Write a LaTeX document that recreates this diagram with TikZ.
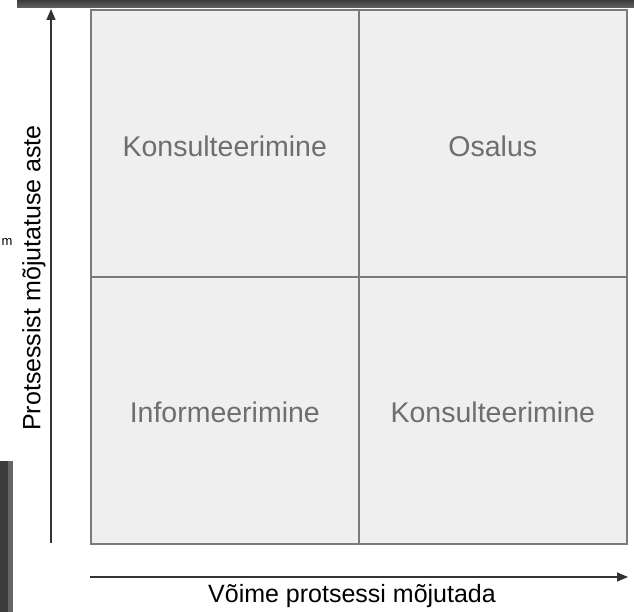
\documentclass[tikz,border=0pt]{standalone}
\usepackage{fontspec}
\setmainfont{Liberation Sans}
\usetikzlibrary{arrows.meta}
\definecolor{cellfill}{HTML}{EFEFEF}
\definecolor{cellline}{HTML}{7A7A7A}
\definecolor{celltext}{HTML}{6E6E6E}
\definecolor{darkbar}{HTML}{3C3C3C}
\tikzset{
  x=1pt,y=-1pt,
  cell/.style={draw=cellline,line width=1.6pt,fill=cellfill,minimum width=268pt,minimum height=267pt,inner sep=0pt},
  celltxt/.style={font=\fontsize{28.5}{32}\selectfont,text=celltext,inner sep=0pt},
  axis/.style={draw=black!80,line width=1.4pt,-{Triangle[length=11pt,width=9pt]}},
  axislabel/.style={font=\fontsize{25}{29}\selectfont,text=black,inner sep=0pt}
}
\begin{document}
\begin{tikzpicture}
\useasboundingbox (0,0) rectangle (634,612);
% decorative bars
\fill[top color=darkbar,bottom color=darkbar!80!white] (17,0) rectangle (634,8);
\fill[darkbar] (0,461) rectangle (8,612);
\fill[black!60] (8,461) rectangle (13,612);
\node[font=\fontsize{13}{15}\selectfont,inner sep=0pt] (m) at (7,242) {m};
% cells
\node[cell,anchor=north west] (c11) at (90,9) {};
\node[cell,anchor=north west] (c12) at (358,9) {};
\node[cell,anchor=north west] (c21) at (90,276) {};
\node[cell,anchor=north west] (c22) at (358,276) {};
\node[celltxt] (t11) at ([yshift=-3pt]c11.center) {Konsulteerimine};
\node[celltxt] (t12) at ([yshift=-3pt]c12.center) {Osalus};
\node[celltxt] (t21) at ([yshift=-2pt]c21.center) {Informeerimine};
\node[celltxt] (t22) at ([yshift=-2pt]c22.center) {Konsulteerimine};
% axes
\coordinate (ys) at (51,543);
\coordinate (ye) at (51,9);
\coordinate (xs) at (90,577);
\coordinate (xe) at (628,577);
\draw[axis] (ys) -- (ye);
\draw[axis] (xs) -- (xe);
\node[axislabel,rotate=90] (yl) at (34,278) {Protsessist mõjutatuse aste};
\node[axislabel] (xl) at (352,596) {Võime protsessi mõjutada};
\end{tikzpicture}
\end{document}
